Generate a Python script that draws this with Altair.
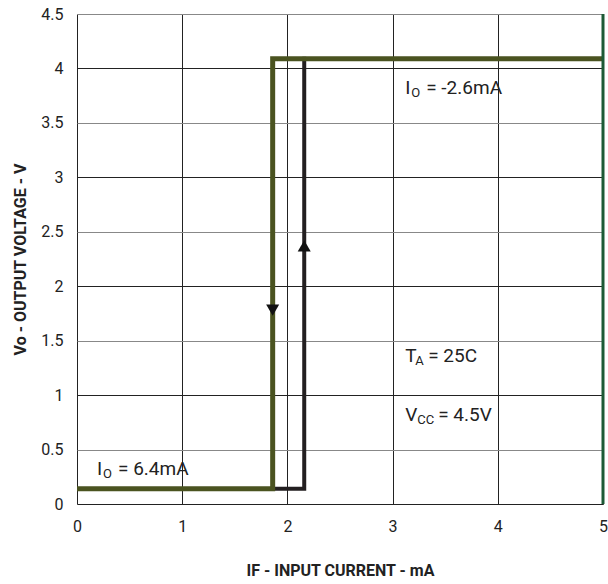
import altair as alt
import pandas as pd

# hysteresis curves
olive_x = [0, 1.86, 1.86, 5]
olive_y = [0.14, 0.14, 4.09, 4.09]
black_x = [1.86, 2.16, 2.16]
black_y = [0.14, 0.14, 4.09]

# arrows
arrow_x = [1.86, 2.16]
arrow_y = [1.78, 2.37]
arrow_shape = ["triangle-down", "triangle-up"]

# annotations (main letter, subscript, rest)
ann_x = [3.12, 3.12, 3.12, 0.19]
ann_y = [3.82, 1.36, 0.82, 0.32]
ann_main = ["I", "T", "V", "I"]
ann_sub = ["O", "A", "CC", "O"]
ann_rest = ["= -2.6mA", "= 25C", "= 4.5V", "= 6.4mA"]
ann_subdx = [6, 10, 12, 6]
ann_restdx = [21, 23, 33, 21]

x_ticks = [0, 1, 2, 3, 4, 5]
y_ticks = [0, 0.5, 1, 1.5, 2, 2.5, 3, 3.5, 4, 4.5]

FONT = "Roboto, Liberation Sans, sans-serif"

olive = pd.DataFrame({"x": olive_x, "y": olive_y, "o": range(len(olive_x))})
black = pd.DataFrame({"x": black_x, "y": black_y, "o": range(len(black_x))})
arrows = pd.DataFrame({"x": arrow_x, "y": arrow_y, "s": arrow_shape})

xscale = alt.Scale(domain=[0, 5], nice=False, zero=False)
yscale = alt.Scale(domain=[0, 4.5], nice=False, zero=False)

xaxis = alt.Axis(values=x_ticks, title="IF - INPUT CURRENT - mA", grid=True, format="~g",
                 gridColor="#222222", gridWidth=1, domain=False, ticks=False,
                 labelPadding=14, labelFontSize=16, labelFont=FONT, labelColor="#222",
                 titleFont=FONT, titleFontSize=16, titleFontWeight="bold", titleColor="#222",
                 titlePadding=28, labelFlush=False, labelOverlap=False)
yaxis = alt.Axis(values=y_ticks, title="Vo - OUTPUT VOLTAGE - V", grid=True, format="~g",
                 gridColor={"condition": {"test": "datum.value % 1 === 0", "value": "#222222"},
                            "value": "#888888"},
                 gridWidth=1, domain=False, ticks=False,
                 labelPadding=14, labelFontSize=16, labelFont=FONT, labelColor="#222",
                 titleFont=FONT, titleFontSize=16, titleFontWeight="bold", titleColor="#222",
                 titlePadding=12, labelFlush=False, labelOverlap=False)

base = alt.Chart(black).mark_line(color="#231f20", strokeWidth=4, strokeCap="square").encode(
    x=alt.X("x:Q", scale=xscale, axis=xaxis),
    y=alt.Y("y:Q", scale=yscale, axis=yaxis),
    order="o:Q",
)

olive_line = alt.Chart(olive).mark_line(color="#4a5320", strokeWidth=5, strokeCap="butt").encode(
    x=alt.X("x:Q", scale=xscale), y=alt.Y("y:Q", scale=yscale), order="o:Q")

arrow_pts = alt.Chart(arrows).mark_point(filled=True, color="#111", size=170, opacity=1).encode(
    x=alt.X("x:Q", scale=xscale), y=alt.Y("y:Q", scale=yscale),
    shape=alt.Shape("s:N", scale=alt.Scale(domain=arrow_shape, range=arrow_shape), legend=None))

right_edge = alt.Chart(pd.DataFrame({"x": [5]})).mark_rule(color="#1d5a36", strokeWidth=3).encode(
    x=alt.X("x:Q", scale=xscale))

layers = [base, olive_line, arrow_pts, right_edge]
for i in range(len(ann_x)):
    row = pd.DataFrame({"x": [ann_x[i]], "y": [ann_y[i]], "m": [ann_main[i]],
                        "sub": [ann_sub[i]], "r": [ann_rest[i]]})
    enc = dict(x=alt.X("x:Q", scale=xscale), y=alt.Y("y:Q", scale=yscale))
    layers.append(alt.Chart(row).mark_text(align="left", baseline="middle", font=FONT,
                                           fontSize=19, color="#222").encode(text="m:N", **enc))
    layers.append(alt.Chart(row).mark_text(align="left", baseline="middle", font=FONT,
                                           fontSize=13, color="#222", dx=ann_subdx[i], dy=5).encode(text="sub:N", **enc))
    layers.append(alt.Chart(row).mark_text(align="left", baseline="middle", font=FONT,
                                           fontSize=19, color="#222", dx=ann_restdx[i]).encode(text="r:N", **enc))

chart = alt.layer(*layers).properties(
    width=526, height=490,
    autosize=alt.AutoSizeParams(type="none"),
    padding={"left": 77, "top": 14, "right": 5, "bottom": 80},
).configure_view(stroke="#1a1a1a", strokeWidth=2).configure(background="white")

chart.save("out.html", embed_options={"renderer": "svg", "actions": False})
